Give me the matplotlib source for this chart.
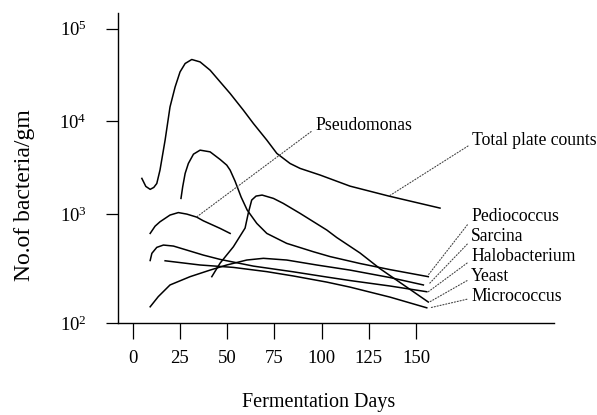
import numpy as np
import matplotlib
matplotlib.use('Agg')
import matplotlib.pyplot as plt

plt.rcParams['font.family'] = ['Liberation Serif', 'DejaVu Serif']
plt.rcParams['mathtext.default'] = 'regular'

# fermentation days and bacteria counts per gram
tpc_days = [4.9, 7.0, 9.3, 11.2, 12.8, 14.5, 17.2, 19.8, 22.5, 25.1, 27.8, 31.3, 35.7, 41.0, 46.3,
            51.6, 58.6, 63.9, 71.0, 76.3, 83.3, 88.6, 99.2, 115.0, 135.6, 162.6]
tpc_counts = [2440, 2000, 1860, 1950, 2150, 3000, 6300, 14350, 23550, 34150, 42070, 46450, 43750,
              35650, 26690, 20000, 13220, 9510, 6300, 4530, 3530, 3125, 2650, 2014, 1573, 1169]

pseudo_days = [9.3, 11.9, 14.5, 19.8, 24.2, 28.7, 33.9, 37.4, 46.3, 51.6]
pseudo_counts = [668, 779, 855, 986, 1046, 1007, 944, 873, 743, 668]

pedio_days = [25.6, 26.5, 27.8, 29.5, 32.2, 35.7, 41.0, 46.3, 49.8, 51.6, 54.2, 57.4, 60.6,
              65.7, 71.0, 81.5, 95.6, 104.4, 120.3, 136.2, 156.4]
pedio_counts = [1486, 1982, 2761, 3532, 4448, 4913, 4710, 3900, 3390, 2992, 2280, 1538, 1114,
                826, 668, 541, 453, 409, 353, 310, 267]

sarcina_days = [9.3, 13.6, 19.8, 30.4, 41.0, 49.8, 60.4, 69.2, 81.5, 97.4, 115.0, 136.2, 153.8]
sarcina_counts = [141, 175, 224, 267, 307, 342, 380, 394, 380, 342, 307, 262, 224]

halo_days = [9.3, 10.2, 12.8, 16.3, 21.6, 28.7, 37.4, 46.3, 63.9, 85.0, 102.7, 115.0, 136.2, 155.6]
halo_counts = [376, 438, 497, 522, 511, 469, 422, 385, 334, 296, 265, 246, 219, 194]

yeast_days = [41.9, 46.3, 53.3, 59.5, 61.2, 63.0, 65.3, 68.5, 74.5, 79.7, 88.6, 102.7, 108.0,
              120.3, 130.9, 156.4]
yeast_counts = [267, 356, 503, 748, 1032, 1426, 1574, 1614, 1486, 1313, 1025, 718, 612,
                441, 316, 156]

micro_days = [17.2, 35.7, 53.3, 71.0, 85.0, 102.7, 115.0, 136.2, 155.6]
micro_counts = [374, 342, 325, 297, 271, 238, 214, 173, 138]

x_ticks = [0, 25, 50, 75, 100, 125, 150]
y_ticks = [1e2, 1e3, 1e4, 1e5]
y_tick_labels = ['$10^{2}$', '$10^{3}$', '$10^{4}$', '$10^{5}$']


# the printed log axis is not evenly spaced: first decade is taller than the rest
def fwd(y):
    l = np.log10(np.clip(y, 1e-6, None))
    return np.where(l < 3, (l - 2) * 108.7, 108.7 + (l - 3) * 93.0)


def inv(v):
    v = np.asarray(v, dtype=float)
    return np.where(v < 108.7, 10 ** (2 + v / 108.7), 10 ** (3 + (v - 108.7) / 93.0))


fig = plt.figure(figsize=(5.97, 4.15), dpi=100)
ax = fig.add_axes([0.1977, 0.2217, 0.7303, 0.7463])
ax.set_yscale('function', functions=(fwd, inv))

for d, c in [(tpc_days, tpc_counts), (pseudo_days, pseudo_counts), (pedio_days, pedio_counts),
             (sarcina_days, sarcina_counts), (halo_days, halo_counts),
             (yeast_days, yeast_counts), (micro_days, micro_counts)]:
    ax.plot(d, c, color='black', lw=1.1, solid_joinstyle='round')

ax.set_xlim(-7.7, 222.9)
ax.set_ylim(100, 1.46e5)
ax.set_xticks(x_ticks)
ax.set_yticks(y_ticks)
ax.set_yticklabels(y_tick_labels)
ax.yaxis.set_minor_locator(matplotlib.ticker.NullLocator())
ax.tick_params(axis='x', length=11.5, width=0.9, pad=8, labelsize=13.5)
ax.tick_params(axis='y', length=8.6, width=0.9, pad=14, labelsize=13.5)

for s in ['top', 'right']:
    ax.spines[s].set_visible(False)
for s in ['left', 'bottom']:
    ax.spines[s].set_linewidth(1.0)

ax.set_xlabel('Fermentation Days', fontsize=14.5)
ax.xaxis.set_label_coords(0.459, -0.225)
ax.set_ylabel('No.of bacteria/gm', fontsize=17)
ax.yaxis.set_label_coords(-0.19, 0.413)

pointer = dict(arrowstyle='-', linestyle=':', color='#444444', lw=0.8,
               shrinkA=1, shrinkB=0)
labels = [
    ('Pseudomonas', (34, 950), (96.5, 9100), (0, 0.3)),
    ('Total plate counts', (135.6, 1573), (179.5, 6300), (0, 0.3)),
    ('Pediococcus', (156.4, 277), (179, 951), (0, 0.3)),
    ('Sarcina', (156.8, 229), (179, 622), (0, 0.3)),
    ('Halobacterium', (156.4, 194), (179, 407), (0, 0.3)),
    ('Yeast', (157.3, 157), (179, 267), (0, 0.4)),
    ('Micrococcus', (157.3, 138), (179, 175), (0, 0.4)),
]
for text, xy, xytext, rel in labels:
    ax.annotate(text, xy=xy, xytext=xytext, fontsize=12.7, ha='left', va='center',
                arrowprops=dict(pointer, relpos=rel), annotation_clip=False)

fig.savefig('out.png', dpi=100)
